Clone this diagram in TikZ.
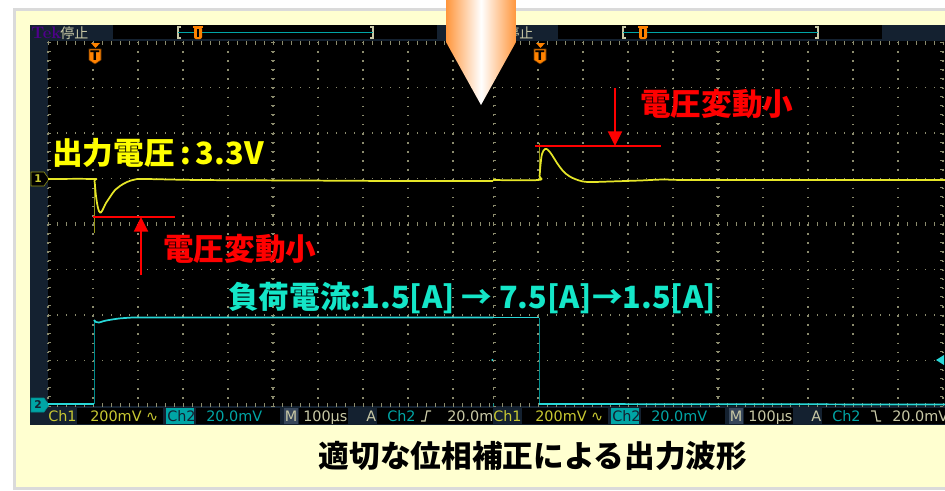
\documentclass[tikz,border=0pt]{standalone}
\usepackage{fontspec}
\usepackage{tikz}
\usetikzlibrary{arrows.meta}
\newfontfamily\jpfont{Noto Sans CJK JP}
\newfontfamily\statfont{DejaVu Sans}
\definecolor{cream}{RGB}{255,255,208}
\definecolor{frameg}{RGB}{218,218,218}
\definecolor{navy}{RGB}{20,33,48}
\definecolor{gridc}{RGB}{140,140,110}
\definecolor{ch1c}{RGB}{230,230,40}
\definecolor{ch1d}{RGB}{150,150,20}
\definecolor{ch2c}{RGB}{40,215,215}
\definecolor{ch2d}{RGB}{0,140,140}
\definecolor{labyel}{RGB}{255,255,0}
\definecolor{labcyan}{RGB}{20,230,200}
\definecolor{statyel}{RGB}{200,200,50}
\definecolor{statteal}{RGB}{0,165,165}
\definecolor{khaki}{RGB}{200,200,165}
\definecolor{tekc}{RGB}{80,0,140}
\definecolor{trigc}{RGB}{255,130,0}
\definecolor{arrowc}{RGB}{255,150,60}
\definecolor{mbox}{RGB}{55,70,90}

\begin{document}
\begin{tikzpicture}[x=0.75pt,y=-0.75pt,
  lbl/.style={inner sep=0,anchor=west,font=\jpfont\bfseries\fontsize{23}{23}\selectfont},
  stat/.style={inner sep=0,anchor=base west,font=\statfont\fontsize{10.8}{10.8}\selectfont},
  grd/.style={gridc,line width=1.1pt,dash pattern=on 1.1pt off 5.65pt},
  grdv/.style={gridc,line width=1.1pt,dash pattern=on 1.1pt off 5.73pt},
  tck/.style={gridc,line width=0.7pt},
  sbox/.style={fill=black},
  trace/.style={line width=1.3pt,line join=round},
  edge/.style={line width=0.6pt},
  redline/.style={red,line width=1.6pt},
  redarr/.style={red,line width=1.6pt,-{Triangle[length=11pt,width=10.5pt]}}
  ]
\useasboundingbox (0,0) rectangle (945,490);
\fill[white] (0,0) rectangle (945,490);
\draw[frameg,line width=1.9pt,fill=cream] (14.5,9.5) rectangle (960,488.5);
\fill[black] (30,25) rectangle (945,425);

% two scope shots side by side, the second one cut at its grid edge
\foreach \o/\xa/\xb in {0/30/493,445/493/945}{
 \begin{scope}
  \clip (\xa,25) rectangle (\xb,425);
  \fill[navy] (30+\o,25) rectangle (48+\o,425);
  \fill[navy] (30+\o,25) rectangle (500+\o,41);
  \fill[navy] (30+\o,406) rectangle (500+\o,425);
  \fill[sbox] (113+\o,25) rectangle (437+\o,39);
  % graticule
  \foreach \i in {0,...,10} \draw[grdv] (48+\o+45*\i,42) -- (48+\o+45*\i,406);
  \foreach \j in {0,...,8} \draw[grd] (48+\o,42+45.5*\j) -- (498+\o,42+45.5*\j);
  \foreach \k in {0,...,50} \draw[tck] (48+\o+9*\k,222) -- ++(0,4) (48+\o+9*\k,42) -- ++(0,3) (48+\o+9*\k,406) -- ++(0,-3);
  \foreach \k in {0,...,40} \draw[tck] (271+\o,42+9.1*\k) -- ++(4,0) (48+\o,42+9.1*\k) -- ++(3,0) (498+\o,42+9.1*\k) -- ++(-3,0);
  % top bar
  \node[inner sep=0,anchor=base west,text=tekc,font=\bfseries\fontsize{12.5}{12.5}\selectfont] (tek\o) at (31+\o,38) {Tek};
  \node[inner sep=0,anchor=west,text=khaki,font=\jpfont\fontsize{10.5}{10.5}\selectfont] (stop\o) at (60+\o,33) {停止};
  \draw[khaki,line width=0.8pt] (181+\o,27) -| (178+\o,38) -- (181+\o,38) (370+\o,27) -| (373+\o,38) -- (370+\o,38);
  \draw[statteal,line width=1pt] (178+\o,32.5) -- (373+\o,32.5);
  \fill[trigc] (193+\o,26) rectangle (203+\o,28);
  \fill[trigc,rounded corners=1.5pt] (194+\o,27) rectangle (202+\o,39);
  \draw[black,line width=0.8pt] (198+\o,29) -- (198+\o,37);
  % trigger position
  \fill[trigc] (91+\o,43) -- (100+\o,43) -- (95.5+\o,48) -- cycle;
  \draw[black!60!trigc,fill=trigc] (89+\o,49) -- (101+\o,49) -- (101+\o,60) -- (95+\o,64) -- (89+\o,60) -- cycle;
  \node[inner sep=0,font=\statfont\bfseries\fontsize{10}{10}\selectfont] (trig\o) at (95+\o,56) {T};
  % channel and level markers
  \draw[ch1d,fill=black] (31+\o,172) -- (44+\o,172) -- (49+\o,179) -- (44+\o,186) -- (31+\o,186) -- cycle;
  \node[inner sep=0,text=statyel,font=\statfont\bfseries\fontsize{8}{8}\selectfont] (one\o) at (38+\o,179) {1};
  \fill[ch2c] (491+\o,360) -- (499+\o,355) -- (499+\o,365) -- cycle;
  % bottom bar
  \node[stat,text=statyel] (ch1\o) at (48+\o,421.5) {Ch1};
  \fill[sbox] (77+\o,407.5) rectangle (163+\o,424);
  \node[stat,text=statyel] (vdiv1\o) at (90+\o,421.5) {200mV ∿};
  \fill[statteal] (166+\o,407.5) rectangle (194+\o,424);
  \node[stat,text=navy] (ch2\o) at (167+\o,421.5) {Ch2};
  \fill[sbox] (196+\o,407.5) rectangle (280+\o,424);
  \node[stat,text=statteal] (vdiv2\o) at (206+\o,421.5) {20.0mV};
  \fill[mbox] (284+\o,407.5) rectangle (298+\o,424);
  \node[stat,text=khaki] (m\o) at (284.5+\o,421.5) {M};
  \fill[sbox] (299+\o,407.5) rectangle (348+\o,424);
  \node[stat,text=khaki] (tdiv\o) at (303+\o,421.5) {100µs};
  \node[stat,text=khaki] (a\o) at (366+\o,421.5) {A};
  \fill[sbox] (377+\o,407.5) rectangle (500+\o,424);
  \node[stat,text=statteal] (src\o) at (387+\o,421.5) {Ch2};
  \node[stat,text=khaki] (lev\o) at (447+\o,421.5) {20.0mV};
  \draw[ch2d,fill=statteal] (31+\o,398) -- (44+\o,398) -- (49+\o,405) -- (44+\o,412) -- (31+\o,412) -- cycle;
  \node[inner sep=0,text=navy,font=\statfont\bfseries\fontsize{8}{8}\selectfont] (two\o) at (38+\o,405) {2};
 \end{scope}
}
\draw[khaki,line width=0.9pt] (421,421) -- (425,421) -- (427,411) -- (431,411);
\draw[khaki,line width=0.9pt] (871,411) -- (875,411) -- (877,421) -- (881,421);

% load current (Ch2)
\draw[ch2d,edge] (94,404) -- (94,320);
\draw[ch2c,trace] (48,404) -- (94,404);
\draw[ch2c,trace] plot[smooth,tension=0.6] coordinates {(94,320) (96,322) (99,322.5) (104,321) (112,319.5) (125,318) (150,317.5) (300,317.5) (493,317.5)};
\draw[ch2c,trace] (493,317.5) -- (539,317.5);
\draw[ch2d,edge] (539,318) -- (539,404);
\draw[ch2c,trace] (539,404) -- (945,404.5);

% output voltage (Ch1)
\draw[ch1d,edge] (94,179) -- (94,233);
\draw[ch1c,trace] plot[smooth,tension=0.6] coordinates {(48,179) (93,179) (94.5,181) (96,196) (98,208) (100,212.5) (102,211) (106,203) (110,197) (115,190) (120,186) (127,182) (135,179.5) (145,179) (200,180) (300,180.5) (400,181) (493,181)};
\draw[ch1d,edge] (539,180) -- (539,143);
\draw[ch1c,trace] plot[smooth,tension=0.6] coordinates {(493,180) (538,180) (539.5,176) (540.5,165) (542,154) (545,149) (548,150) (552,155) (557,163) (563,171) (569,176) (575,179) (583,181.5) (592,182) (610,181.5) (640,180.5) (665,179.5) (700,180) (945,180)};

% annotations
\coordinate (lowL) at (93,217);
\coordinate (lowR) at (175,217);
\coordinate (lowA) at (141,275);
\coordinate (lowT) at (141,217);
\coordinate (upL) at (535,146);
\coordinate (upR) at (661,146);
\coordinate (upA) at (615,88);
\coordinate (upT) at (615,146);
\draw[redline] (lowL) -- (lowR);
\draw[redarr] (lowA) -- (lowT);
\draw[redline] (upL) -- (upR);
\draw[redarr] (upA) -- (upT);

\node[lbl,text=labyel] (vout) at (52,152.5) {出力電圧\,:\,3.3V};
\node[lbl,text=red] (dvlow) at (163,249) {電圧変動小};
\node[lbl,text=red] (dvup) at (640,104) {電圧変動小};
\node[lbl,text=labcyan] (iload) at (228,298) {負荷電流:1.5[A] → 7.5[A]→1.5[A]};
\node[lbl,anchor=center] (cap) at (533,456) {適切な位相補正による出力波形};

% pointer from the top
\shade[left color=arrowc,right color=arrowc,middle color=white] (446,0) -- (516,0) -- (516,42) -- (481,105) -- (446,42) -- cycle;
\end{tikzpicture}
\end{document}
